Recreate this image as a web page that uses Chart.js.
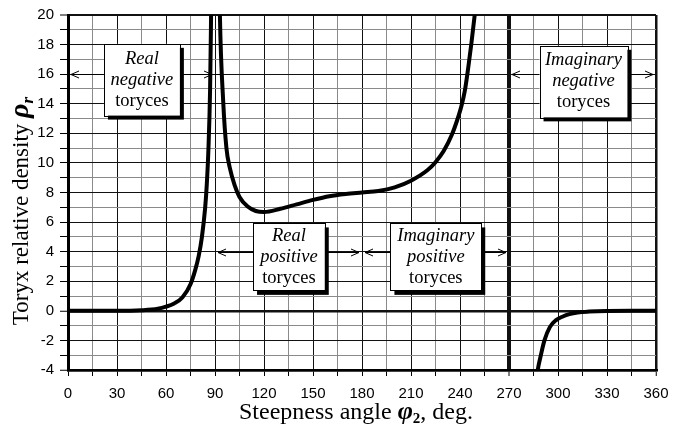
<!DOCTYPE html>
<html>
<head>
<meta charset="utf-8">
<script src="https://cdn.jsdelivr.net/npm/chart.js@4.4.1/dist/chart.umd.min.js"></script>
<style>
  html, body { margin: 0; padding: 0; background: #fff; }
  #wrap { width: 681px; height: 426px; }
</style>
</head>
<body>
<div id="wrap"><canvas id="toryxChart" width="681" height="426"></canvas></div>
<script>
// curve, three branches
const leftAngles  = [0, 30, 45, 55, 60, 65, 70, 75, 78, 80, 82, 84, 85, 86, 87, 87.5, 88];
const leftDensity = [0, 0, 0.04, 0.14, 0.28, 0.5, 0.9, 1.8, 2.8, 3.7, 5, 7, 8.6, 11, 15, 19, 24];

const midAngles  = [92.5, 93, 95, 97, 99, 102, 105, 110, 115, 120, 130, 140, 150, 160, 170, 180, 190, 200, 210, 220, 225, 230, 235, 238, 241, 243, 245, 247, 249, 250.5];
const midDensity = [24, 20, 14.2, 11, 9.7, 8.5, 7.7, 7.05, 6.75, 6.68, 6.9, 7.2, 7.5, 7.75, 7.9, 8.0, 8.1, 8.35, 8.8, 9.5, 10.05, 10.8, 11.9, 12.8, 13.9, 14.9, 16.4, 18.1, 20, 21.6];

const rightAngles  = [286, 287.6, 289.5, 291.7, 295, 298.8, 303, 307, 312, 319, 330, 345, 360];
const rightDensity = [-5.5, -4, -3, -2, -1.1, -0.63, -0.38, -0.22, -0.11, -0.05, -0.01, 0, 0];

const xTicks = { min: 0, max: 360, step: 15, labelEvery: 30 };
const yTicks = { min: -4, max: 20, step: 1, labelEvery: 2 };

// region labels: box corners, arrow height and the two ends the arrows point to
const regions = [
  { x0: 22,    x1: 68.5,  y0: 18.05, y1: 13.2, ay: 16, from: 0,   to: 90,  lines: ['Real', 'negative', 'toryces'] },
  { x0: 113.3, x1: 157.2, y0: 5.91,  y1: 1.35, ay: 4,  from: 90,  to: 180, lines: ['Real', 'positive', 'toryces'] },
  { x0: 197.4, x1: 253,   y0: 5.91,  y1: 1.35, ay: 4,  from: 180, to: 270, lines: ['Imaginary', 'positive', 'toryces'] },
  { x0: 288.7, x1: 342.5, y0: 17.92, y1: 13.08, ay: 16, from: 270, to: 360, lines: ['Imaginary', 'negative', 'toryces'] }
];

function toPoints(xs, ys) {
  return xs.map((x, i) => ({ x: x, y: ys[i] }));
}

function branch(label, xs, ys) {
  return {
    label: label,
    data: toPoints(xs, ys),
    borderColor: '#000',
    borderWidth: 4,
    pointRadius: 0,
    fill: false,
    cubicInterpolationMode: 'monotone'
  };
}

function arrowHead(ctx, x, y, dir) {
  ctx.beginPath();
  ctx.moveTo(x - dir * 8, y - 3.5);
  ctx.lineTo(x, y);
  ctx.lineTo(x - dir * 8, y + 3.5);
  ctx.stroke();
}

const serif = '"Liberation Serif", "Times New Roman", serif';

const regionPlugin = {
  id: 'regions',
  afterDatasetsDraw(chart) {
    const ctx = chart.ctx;
    const xs = chart.scales.x, ys = chart.scales.y;
    ctx.save();
    regions.forEach((r, idx) => {
      const L = xs.getPixelForValue(r.x0), R = xs.getPixelForValue(r.x1);
      const T = ys.getPixelForValue(r.y0), B = ys.getPixelForValue(r.y1);
      const ay = Math.round(ys.getPixelForValue(r.ay)) + 0.5;
      const aL = xs.getPixelForValue(r.from) + 3, aR = xs.getPixelForValue(r.to) - 3;

      // arrows
      ctx.strokeStyle = '#000';
      ctx.lineWidth = 1;
      ctx.beginPath();
      ctx.moveTo(aL, ay); ctx.lineTo(L, ay);
      ctx.moveTo(R, ay); ctx.lineTo(aR, ay);
      ctx.stroke();
      arrowHead(ctx, aL, ay, -1);
      arrowHead(ctx, aR, ay, 1);
      if (idx === 0) {
        ctx.beginPath();
        ctx.moveTo(xs.getPixelForValue(90), ay);
        ctx.lineTo(xs.getPixelForValue(93), ay);
        ctx.stroke();
      }

      // box with shadow
      ctx.fillStyle = '#000';
      ctx.fillRect(L + 4, T + 4, R - L, B - T);
      ctx.fillStyle = '#fff';
      ctx.fillRect(L, T, R - L, B - T);
      ctx.lineWidth = 1;
      ctx.strokeRect(Math.round(L) + 0.5, Math.round(T) + 0.5, Math.round(R - L), Math.round(B - T));

      // text
      ctx.fillStyle = '#000';
      ctx.textAlign = 'center';
      ctx.textBaseline = 'middle';
      const cx = (L + R) / 2, cy = (T + B) / 2;
      r.lines.forEach((t, i) => {
        ctx.font = (i < 2 ? 'italic ' : '') + '18.5px ' + serif;
        ctx.fillText(t, cx, cy + (i - 1) * 21);
      });
    });
    ctx.restore();
  }
};

function drawParts(ctx, parts, x, y) {
  let cx = x;
  parts.forEach(p => {
    ctx.font = p.font;
    ctx.fillText(p.text, cx, y + (p.dy || 0));
    cx += ctx.measureText(p.text).width;
  });
}

function partsWidth(ctx, parts) {
  let w = 0;
  parts.forEach(p => { ctx.font = p.font; w += ctx.measureText(p.text).width; });
  return w;
}

const titlePlugin = {
  id: 'axisTitles',
  afterDraw(chart) {
    const ctx = chart.ctx;
    ctx.save();
    ctx.fillStyle = '#000';
    ctx.textAlign = 'left';
    ctx.textBaseline = 'alphabetic';

    const xParts = [
      { text: 'Steepness angle ', font: '24px ' + serif },
      { text: 'φ', font: 'bold italic 26px ' + serif },
      { text: '2', font: 'bold 15px ' + serif, dy: 4 },
      { text: ', deg.', font: '24px ' + serif }
    ];
    const xw = partsWidth(ctx, xParts);
    drawParts(ctx, xParts, 356 - xw / 2, 419);

    const yParts = [
      { text: 'Toryx relative density ', font: '23px ' + serif },
      { text: 'ρ', font: 'bold italic 28px ' + serif },
      { text: 'r', font: 'bold italic 17px ' + serif, dy: 5 }
    ];
    const yw = partsWidth(ctx, yParts);
    ctx.translate(28, 211);
    ctx.rotate(-Math.PI / 2);
    drawParts(ctx, yParts, -yw / 2, 0);
    ctx.restore();
  }
};

function xGridWidth(c) {
  const v = c.tick ? c.tick.value : null;
  if (v === 270) return 4;
  if (v === 0) return 3;
  if (v === 360) return 2.5;
  return 1;
}
function xGridColor(c) {
  const v = c.tick ? c.tick.value : null;
  if (v % 30 === 0) return '#111';
  return '#8a8a8a';
}
function yGridWidth(c) {
  const v = c.tick ? c.tick.value : null;
  if (v === 0) return 2.5;
  if (v === -4) return 2.5;
  if (v === 20) return 2;
  return 1;
}
function yGridColor(c) {
  const v = c.tick ? c.tick.value : null;
  if (v % 2 === 0) return '#111';
  return '#8a8a8a';
}

const ctx = document.getElementById('toryxChart').getContext('2d');

const toryxChart = new Chart(ctx, {
  type: 'line',
  data: {
    datasets: [
      branch('left', leftAngles, leftDensity),
      branch('middle', midAngles, midDensity),
      branch('right', rightAngles, rightDensity)
    ]
  },
  options: {
    responsive: false,
    animation: false,
    devicePixelRatio: 1,
    layout: { padding: { left: 0, right: 25, top: 14, bottom: 0 } },
    plugins: {
      legend: { display: false },
      tooltip: { enabled: false }
    },
    scales: {
      x: {
        type: 'linear',
        min: xTicks.min,
        max: xTicks.max,
        afterFit: s => { s.height = 56; },
        border: { display: true, color: '#000', width: 2.5 },
        grid: {
          color: xGridColor,
          lineWidth: xGridWidth,
          tickColor: '#000',
          tickWidth: 1,
          tickLength: 6
        },
        ticks: {
          stepSize: xTicks.step,
          autoSkip: false,
          maxRotation: 0,
          color: '#000',
          padding: 9,
          font: { family: '"Liberation Sans", Arial, sans-serif', size: 15 },
          callback: v => (v % xTicks.labelEvery === 0 ? v : '')
        }
      },
      y: {
        type: 'linear',
        min: yTicks.min,
        max: yTicks.max,
        afterFit: s => { s.width = 68; },
        border: { display: true, color: '#000', width: 3 },
        grid: {
          color: yGridColor,
          lineWidth: yGridWidth,
          tickColor: '#000',
          tickWidth: 1,
          tickLength: 8
        },
        ticks: {
          stepSize: yTicks.step,
          autoSkip: false,
          color: '#000',
          padding: 6,
          font: { family: '"Liberation Sans", Arial, sans-serif', size: 15 },
          callback: v => (v % yTicks.labelEvery === 0 ? v : '')
        }
      }
    }
  },
  plugins: [regionPlugin, titlePlugin]
});
</script>
</body>
</html>
